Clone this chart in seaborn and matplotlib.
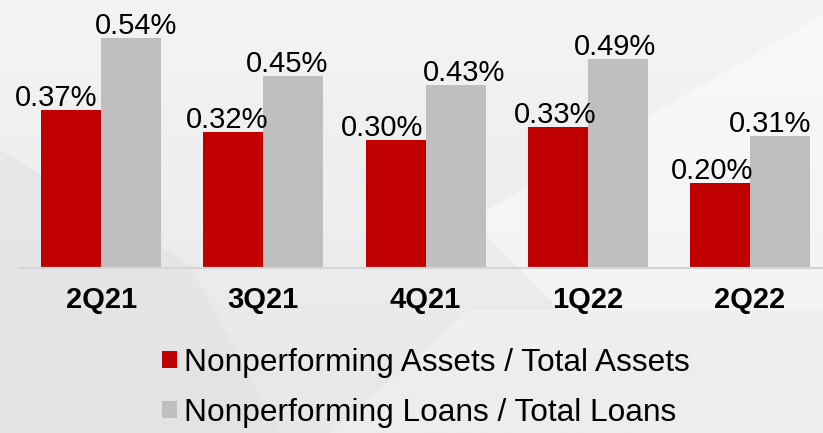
import numpy as np
import pandas as pd
import matplotlib
matplotlib.use("Agg")
import matplotlib.pyplot as plt
from matplotlib.patches import Polygon, Patch
from matplotlib.colors import LinearSegmentedColormap
import seaborn as sns

# ---- data ----
quarters = ["2Q21", "3Q21", "4Q21", "1Q22", "2Q22"]
npa_ratio = [0.37, 0.32, 0.30, 0.33, 0.20]   # Nonperforming Assets / Total Assets (%)
npl_ratio = [0.54, 0.45, 0.43, 0.49, 0.31]   # Nonperforming Loans / Total Loans (%)
series_names = ["Nonperforming Assets / Total Assets",
                "Nonperforming Loans / Total Loans"]

df = pd.DataFrame({
    "quarter": quarters * 2,
    "value": npa_ratio + npl_ratio,
    "series": [series_names[0]] * len(quarters) + [series_names[1]] * len(quarters),
})

sns.set_theme(style="white")
plt.rcParams["font.family"] = ["Liberation Sans", "DejaVu Sans"]
plt.rcParams["text.color"] = "black"
plt.rcParams["xtick.color"] = "black"

W, H = 823, 433
fig = plt.figure(figsize=(W / 100, H / 100), dpi=100)
fig.patch.set_facecolor("#EFEFF0")

# ---- background ----
bg = fig.add_axes([0, 0, 1, 1], zorder=-10)
grad = np.linspace(0, 1, 256).reshape(-1, 1)
cmap = LinearSegmentedColormap.from_list("bg", ["#F4F4F5", "#E7E7E9"])
bg.imshow(grad, aspect="auto", cmap=cmap, extent=[0, W, H, 0])
bg.add_patch(Polygon([(0, 150), (190, 265), (280, 433), (0, 433)],
                     closed=True, color="#E0E0E3", alpha=0.5, lw=0))
bg.add_patch(Polygon([(470, 220), (823, 15), (823, 310), (560, 310)],
                     closed=True, color="white", alpha=0.45, lw=0))
bg.add_patch(Polygon([(330, 433), (470, 310), (823, 310), (823, 433)],
                     closed=True, color="white", alpha=0.25, lw=0))
bg.set_xlim(0, W)
bg.set_ylim(H, 0)
bg.axis("off")

# ---- main axes ----
left = 20 / W
base = (H - 268) / H
ax = fig.add_axes([left, base, 1 - left, 1 - base])
ax.patch.set_alpha(0)

sns.barplot(data=df, x="quarter", y="value", hue="series",
            palette=["#C00000", "#BFBFBF"], width=0.74, gap=0,
            saturation=1, linewidth=0, edgecolor="none",
            ax=ax, legend=False)

ax.set_xlim(-0.5, 4.45)
ax.set_ylim(0, 268 / 426)
ax.set_xlabel("")
ax.set_ylabel("")
ax.set_yticks([])
for s in ["left", "right", "top"]:
    ax.spines[s].set_visible(False)
ax.spines["bottom"].set_color("#D6D6D8")
ax.spines["bottom"].set_linewidth(1.6)
ax.tick_params(axis="x", length=0, pad=13, colors="black")
for lab in ax.get_xticklabels():
    lab.set_fontsize(21)
    lab.set_fontweight("bold")
    lab.set_color("black")

# value labels
label_dx = [[-15, -6, -13, -3, -8], [5, -6, 8, -3, -10]]
for ci, cont in enumerate(ax.containers):
    for bi, bar in enumerate(cont):
        v = bar.get_height()
        ax.annotate(f"{v:.2f}%",
                    (bar.get_x() + bar.get_width() / 2, v),
                    xytext=(label_dx[ci][bi], 4), textcoords="offset pixels",
                    ha="center", va="baseline", fontsize=21, color="black")

# legend
handles = [Patch(facecolor="#C00000", edgecolor="none"),
           Patch(facecolor="#BFBFBF", edgecolor="none")]
leg = fig.legend(handles, series_names, loc="upper left",
                 bbox_to_anchor=(162 / W, 1 - 348 / H),
                 frameon=False, fontsize=22.8, handlelength=0.46, handleheight=0.46,
                 handletextpad=0.25, labelspacing=0.62, borderpad=0, borderaxespad=0)
for t in leg.get_texts():
    t.set_color("black")

fig.savefig("out.png", dpi=100)
